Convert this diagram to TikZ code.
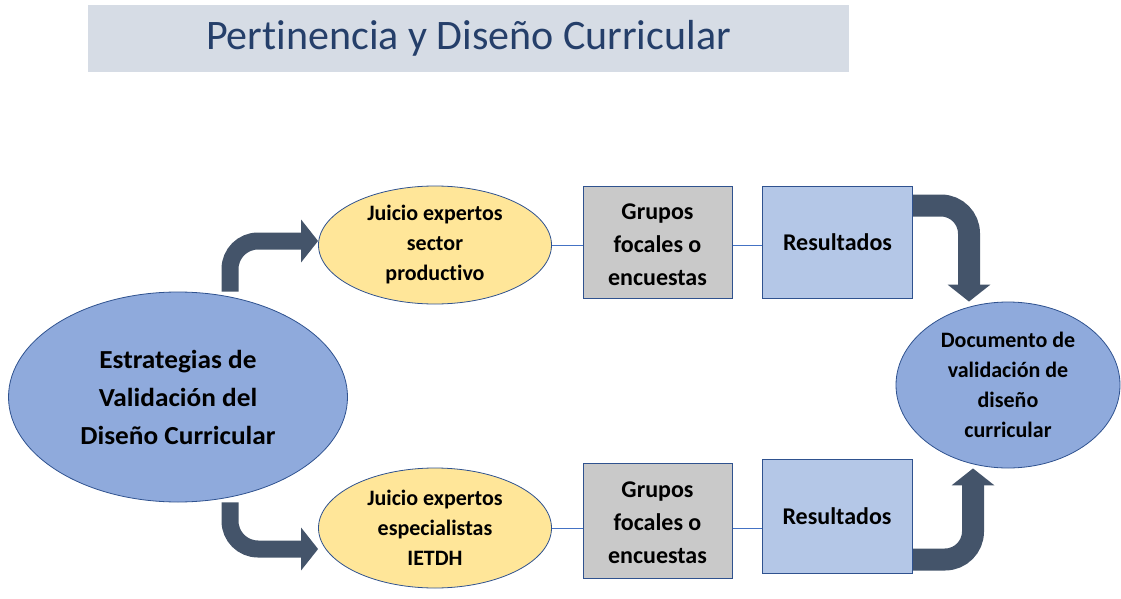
\documentclass[tikz,border=0pt]{standalone}
\usepackage{fontspec}
\setmainfont{Carlito}[Ligatures=NoCommon]
\newfontfamily\bigfont[FakeStretch=1.05,Ligatures=NoCommon]{Carlito}
\usetikzlibrary{arrows.meta,shapes.geometric,backgrounds}
\definecolor{band}{HTML}{D6DCE5}
\definecolor{titlec}{HTML}{253F6A}
\definecolor{edge}{HTML}{2F528F}
\definecolor{bigfill}{HTML}{8FAADC}
\definecolor{yell}{HTML}{FFE699}
\definecolor{grayf}{HTML}{C9C9C9}
\definecolor{resf}{HTML}{B4C7E7}
\definecolor{arrowc}{HTML}{44546A}
\definecolor{linec}{HTML}{4472C4}
\begin{document}
\begin{tikzpicture}[x=1pt,y=-1pt,
  yellownode/.style={ellipse, draw=edge, line width=0.8pt, fill=yell, inner sep=0pt, minimum width=233pt, minimum height=118pt, align=center, font=\bfseries\fontsize{22}{30}\selectfont},
  graybox/.style={rectangle, draw=edge, line width=1pt, fill=grayf, inner sep=0pt, minimum width=149pt, minimum height=112pt, align=center, font=\bfseries\fontsize{24}{33}\selectfont},
  resbox/.style={rectangle, draw=edge, line width=1pt, fill=resf, inner sep=0pt, minimum width=150pt, minimum height=112pt, align=center, font=\bfseries\fontsize{24}{33}\selectfont},
  thinline/.style={draw=linec, line width=0.8pt},
  bigarrow/.style={draw=arrowc, line width=#1, rounded corners=28pt, -{Triangle[length=17pt,width=42pt]}},
]
\useasboundingbox (0,0) rectangle (1121,599);
\node[fill=band, minimum width=761pt, minimum height=67pt, inner sep=0pt, text=titlec, font=\fontsize{42}{50}\selectfont] (title) at (468.5,38.5) {Pertinencia y Diseño Curricular};

\node[ellipse, draw=edge, line width=0.8pt, fill=bigfill, inner sep=0pt, minimum width=339pt, minimum height=210pt, align=center, font=\bigfont\bfseries\fontsize{26}{38}\selectfont] (big) at (178,397) {Estrategias de\\Validación del\\Diseño Curricular};

\node[yellownode] (yA) at (435,245) {Juicio expertos\\sector\\productivo};
\node[yellownode, minimum height=120pt] (yB) at (435,528) {Juicio expertos\\especialistas\\IETDH};

\node[graybox] (gA) at (657.5,242) {\rule{0pt}{22pt}Grupos\\focales o\\encuestas};
\node[graybox, minimum height=115pt] (gB) at (657.5,520.5) {\rule{0pt}{20pt}Grupos\\focales o\\encuestas};

\node[resbox] (rA) at (837.5,242) {Resultados};
\node[resbox, minimum height=114pt] (rB) at (837,516) {Resultados};

\node[ellipse, draw=edge, line width=0.8pt, fill=bigfill, inner sep=0pt, minimum width=224pt, minimum height=166pt, align=center, font=\bfseries\fontsize{22}{30}\selectfont] (doc) at (1008,385) {Documento de\\validación de\\diseño\\curricular};

\draw[thinline] (yA.east) -- (yA.east -| gA.west);
\draw[thinline] (gA.east |- yA.east) -- (yA.east -| rA.west);
\draw[thinline] (yB.east) -- (yB.east -| gB.west);
\draw[thinline] (gB.east |- yB.east) -- (yB.east -| rB.west);

\begin{scope}[on background layer]
\draw[bigarrow=17pt] ([xshift=52pt]big.north) |- ([yshift=4pt]yA.west);
\draw[bigarrow=17pt] ([xshift=52pt]big.south) |- ([yshift=-21pt]yB.west);
\draw[bigarrow=22pt] ([yshift=-20pt]rA.north east) -| ([xshift=-39pt]doc.north);
\draw[bigarrow=22pt] ([yshift=14pt]rB.south east) -| ([xshift=-35pt]doc.south);
\end{scope}
\end{tikzpicture}
\end{document}
